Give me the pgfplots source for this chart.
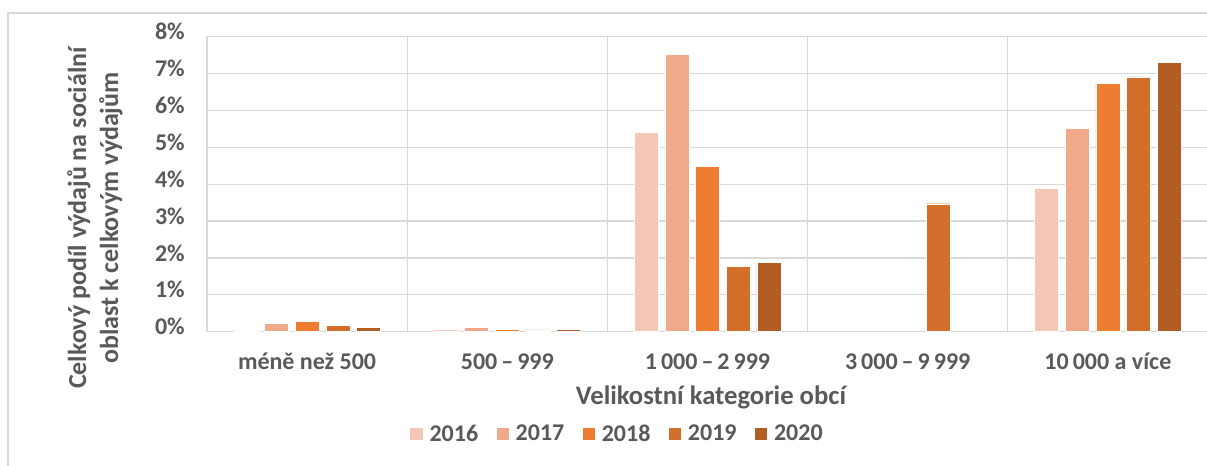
\documentclass[border=0pt]{standalone}
\usepackage{pgfplots}
\pgfplotsset{compat=1.18}
\usepackage{fontspec}
\setmainfont{Carlito}
\definecolor{c16}{HTML}{F4C7B6}
\definecolor{c17}{HTML}{F0A98B}
\definecolor{c18}{HTML}{ED7D31}
\definecolor{c19}{HTML}{D36F2B}
\definecolor{c20}{HTML}{B25D23}
\definecolor{txt}{HTML}{595959}
\definecolor{gridc}{HTML}{D9D9D9}
\begin{document}
\begin{tikzpicture}
\draw[gridc, line width=1.1pt] (6pt,-10pt) rectangle (920pt,339pt);
\begin{axis}[
  at={(155.25pt,100pt)}, anchor=south west,
  scale only axis, width=750.75pt, height=221.25pt,
  ybar=5pt, bar width=18pt,
  legend image code/.code={\fill[#1] (0pt,-4.9pt) rectangle (9.8pt,4.9pt);},
  xmin=-0.5, xmax=4.5, ymin=0, ymax=8,
  xtick={0,1,2,3,4},
  xticklabels={méně než 500, 500\,–\,999, 1\,000\,–\,2\,999, 3\,000\,–\,9\,999, 10\,000 a více},
  minor xtick={-0.5,0.5,1.5,2.5,3.5,4.5}, xminorgrids,
  ytick={0,1,2,3,4,5,6,7,8},
  yticklabels={0\%,1\%,2\%,3\%,4\%,5\%,6\%,7\%,8\%},
  ymajorgrids,
  major tick length=0pt, minor tick length=0pt, tick style={draw=none},
  axis line style={draw=none},
  grid style={gridc, line width=0.9pt},
  minor grid style={gridc, line width=0.9pt},
  tick label style={font=\fontsize{18}{21}\selectfont\bfseries, text=txt},
  xticklabel style={anchor=base, yshift=-28.7pt, inner sep=0pt},
  yticklabel style={anchor=mid east, xshift=-16.5pt, inner sep=0pt},
  ylabel={Celkový podíl výdajů na sociální\\oblast k celkovým výdajům},
  ylabel style={at={(axis description cs:-0.112,0.385)}, anchor=center, align=center, font=\fontsize{19.5}{24}\selectfont\bfseries, text=txt},
  xlabel={Velikostní kategorie obcí},
  xlabel style={at={(axis description cs:0.5035,-0.2215)}, anchor=center, font=\fontsize{20}{24}\selectfont\bfseries, text=txt},
  legend columns=5,
  legend style={draw=none, fill=none, at={(axis description cs:0.41,-0.347)}, anchor=center,
    font=\fontsize{18}{21}\selectfont\bfseries, text=txt,
    /tikz/every odd column/.append style={column sep=3pt},
    /tikz/every even column/.append style={column sep=11pt}},
]
\addplot[fill=c16, draw=white, line width=0.3pt] coordinates {(0,0.04) (1,0.07) (2,5.41) (4,3.88)};
\addplot[fill=c17, draw=white, line width=0.3pt] coordinates {(0,0.22) (1,0.11) (2,7.53) (4,5.52)};
\addplot[fill=c18, draw=white, line width=0.3pt] coordinates {(0,0.28) (1,0.07) (2,4.48) (4,6.74)};
\addplot[fill=c19, draw=white, line width=0.3pt] coordinates {(0,0.18) (1,0.05) (2,1.77) (3,3.47) (4,6.91)};
\addplot[fill=c20, draw=white, line width=0.3pt] coordinates {(0,0.11) (1,0.07) (2,1.88) (4,7.30)};
\legend{2016,2017,2018,2019,2020}
\end{axis}
\pgfresetboundingbox
\path[use as bounding box] (0,0) rectangle (905.25pt,348.75pt);
\end{tikzpicture}
\end{document}
